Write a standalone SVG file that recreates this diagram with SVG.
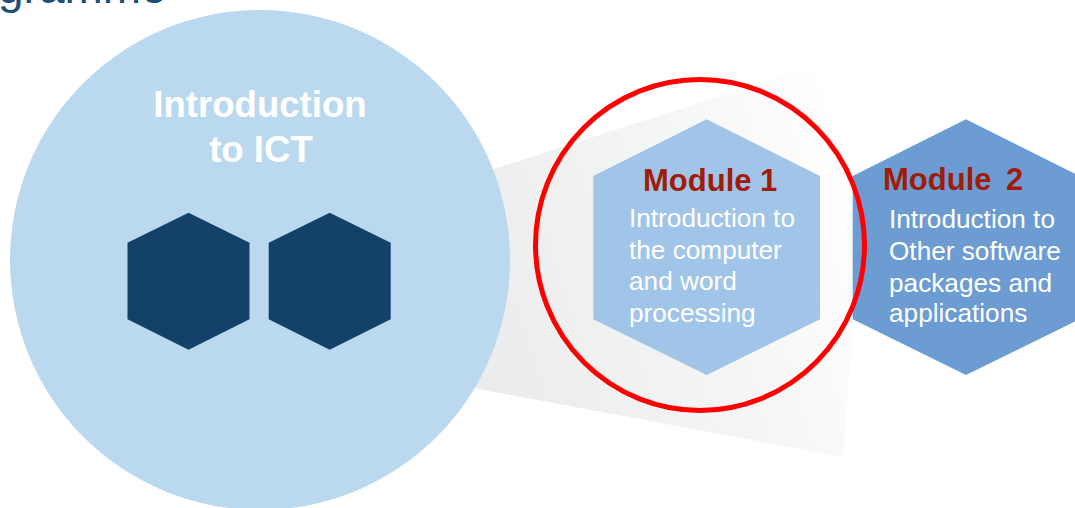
<svg xmlns="http://www.w3.org/2000/svg" width="1075" height="508" viewBox="0 0 1075 508">
<defs>
<linearGradient id="coneGrad" gradientUnits="userSpaceOnUse" x1="480" y1="300" x2="860" y2="180">
<stop offset="0" stop-color="#ececec"/>
<stop offset="0.6" stop-color="#f6f6f6"/>
<stop offset="1" stop-color="#ffffff"/>
</linearGradient>
<style>
.hexDark{fill:#13416a;}
.title{font-family:"Liberation Sans",Arial,sans-serif;font-weight:bold;font-size:31px;fill:#a01c08;}
.body{font-family:"Liberation Sans",Arial,sans-serif;font-size:26.2px;fill:#ffffff;}
.big{font-family:"Liberation Sans",Arial,sans-serif;font-weight:bold;font-size:36.6px;fill:#ffffff;text-anchor:middle;}
</style>
</defs>
<rect width="1075" height="508" fill="#ffffff"/>
<text x="-2" y="3" font-family="Liberation Sans, Arial, sans-serif" font-size="46" fill="#1f4e79">gramme</text>
<g id="connectors">
<polygon points="420,195 497,168 875,46 843,457 473,388 420,378" fill="url(#coneGrad)"/>
</g>
<g id="intro-ict">
<circle cx="260" cy="260" r="250" fill="#bad9ee"/>
<text class="big" x="260" y="117">Introduction</text>
<text class="big" x="261" y="161.5">to ICT</text>
<polygon class="hexDark" points="188.5,212.7 249.5,242.7 249.5,319.3 188.5,349.7 127.5,319.3 127.5,242.7"/>
<polygon class="hexDark" points="329.7,212.7 390.7,242.7 390.7,319.3 329.7,349.7 268.7,319.3 268.7,242.7"/>
</g>
<g id="module2">
<polygon points="966,119.3 1079.3,176 1079.3,319.3 966,375 852.7,319.3 852.7,176" fill="#6c9cd1"/>
<text class="title" x="883" y="190" word-spacing="6">Module 2</text>
<text class="body" x="889" y="228.3">Introduction to</text>
<text class="body" x="889" y="260">Other software</text>
<text class="body" x="889" y="291.5">packages and</text>
<text class="body" x="889" y="322">applications</text>
</g>
<g id="module1">
<polygon points="706.7,119.3 820,176 820,319.3 706.7,375 593.3,319.3 593.3,176" fill="#a0c5e8"/>
<text class="title" x="643" y="191">Module 1</text>
<text class="body" x="629" y="227.3">Introduction to</text>
<text class="body" x="629" y="258.5">the computer</text>
<text class="body" x="629" y="290">and word</text>
<text class="body" x="629" y="321.7">processing</text>
</g>
<g id="highlight">
<ellipse cx="700" cy="245" rx="164.5" ry="165.5" fill="none" stroke="#ff0000" stroke-width="5"/>
</g>
</svg>
